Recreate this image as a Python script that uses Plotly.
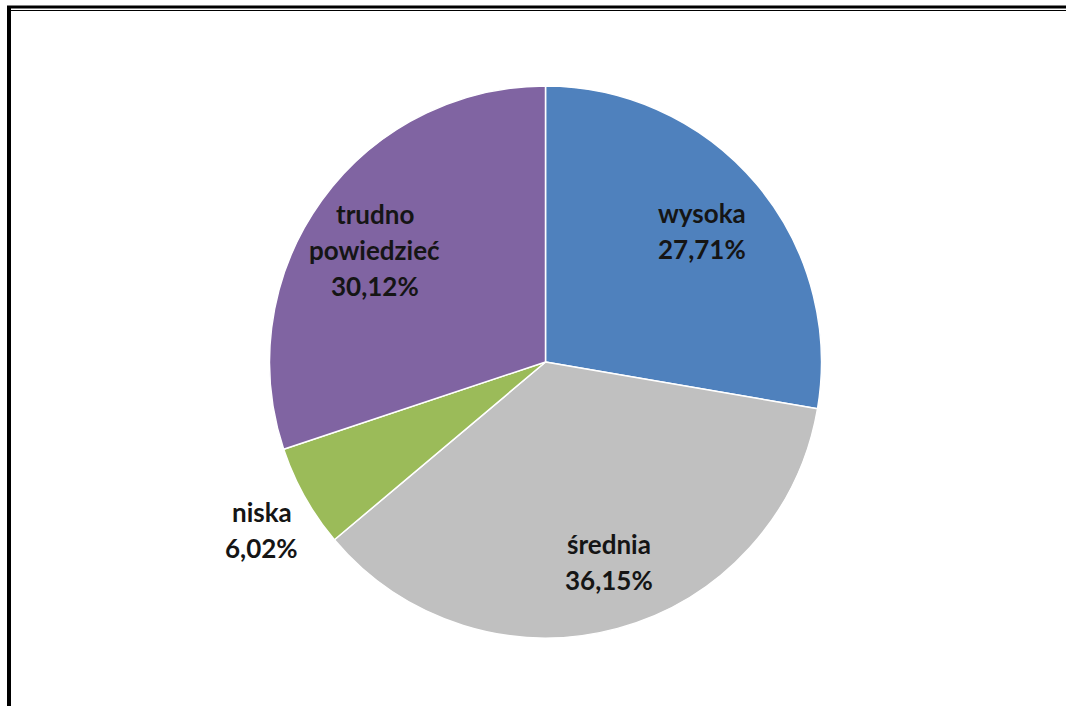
import math
import plotly.graph_objects as go

# ---- data ----
categories = ["wysoka", "średnia", "niska", "trudno powiedzieć"]
category_lines = [["wysoka"], ["średnia"], ["niska"], ["trudno", "powiedzieć"]]
values = [27.71, 36.15, 6.02, 30.12]
value_labels = ["27,71%", "36,15%", "6,02%", "30,12%"]
colors = ["#4F81BD", "#C0C0C0", "#9BBB59", "#8064A2"]
label_radius = [0.74, 0.75, 1.19, 0.75]
label_xshift = [0, 9, 3, -3]
label_yshift = [-1, 0, -7, -9]

W, H = 1066, 706
cx, cy, R = 545.5, 362.0, 276.0  # pixel geometry of the pie
LINE = 36  # line spacing of the labels, px

fig = go.Figure(go.Pie(
    labels=categories,
    values=values,
    sort=False,
    direction="clockwise",
    rotation=0,
    marker=dict(colors=colors, line=dict(color="white", width=1.5)),
    textinfo="none",
    hoverinfo="label+percent",
    showlegend=False,
    domain=dict(x=[(cx - R) / W, (cx + R) / W], y=[1 - (cy + R) / H, 1 - (cy - R) / H]),
))

# labels positioned at the mid-angle of each slice
total = sum(values)
cum = 0.0
annotations = []
for lines, v, lab, rf, xs, ys in zip(category_lines, values, value_labels,
                                     label_radius, label_xshift, label_yshift):
    mid = (cum + v / 2) / total * 2 * math.pi
    cum += v
    px = cx + rf * R * math.sin(mid)
    py = cy - rf * R * math.cos(mid)
    all_lines = lines + [lab]
    n = len(all_lines)
    for i, t in enumerate(all_lines):
        annotations.append(dict(
            x=px / W, y=1 - py / H, xref="paper", yref="paper",
            text=f"<b>{t}</b>", showarrow=False,
            font=dict(family="Lato, 'Open Sans', sans-serif", size=26, color="#151515"),
            align="center", xanchor="center", yanchor="middle",
            xshift=xs, yshift=ys - (i - (n - 1) / 2) * LINE,
        ))

shapes = [
    # top double line
    dict(type="line", xref="paper", yref="paper", x0=7 / W, x1=1, y0=1 - 7 / H, y1=1 - 7 / H,
         line=dict(color="black", width=3)),
    dict(type="line", xref="paper", yref="paper", x0=10 / W, x1=1, y0=1 - 10.5 / H, y1=1 - 10.5 / H,
         line=dict(color="black", width=1.2)),
    # left thick line
    dict(type="line", xref="paper", yref="paper", x0=9 / W, x1=9 / W, y0=1 - 6 / H, y1=0,
         line=dict(color="black", width=4)),
]

fig.update_layout(
    width=W, height=H,
    margin=dict(l=0, r=0, t=0, b=0),
    paper_bgcolor="white", plot_bgcolor="white",
    annotations=annotations,
    shapes=shapes,
)

fig.write_html(
    "out.html",
    config={"displayModeBar": False},
    post_script="document.body.style.margin='0';document.body.style.overflow='hidden';",
)
